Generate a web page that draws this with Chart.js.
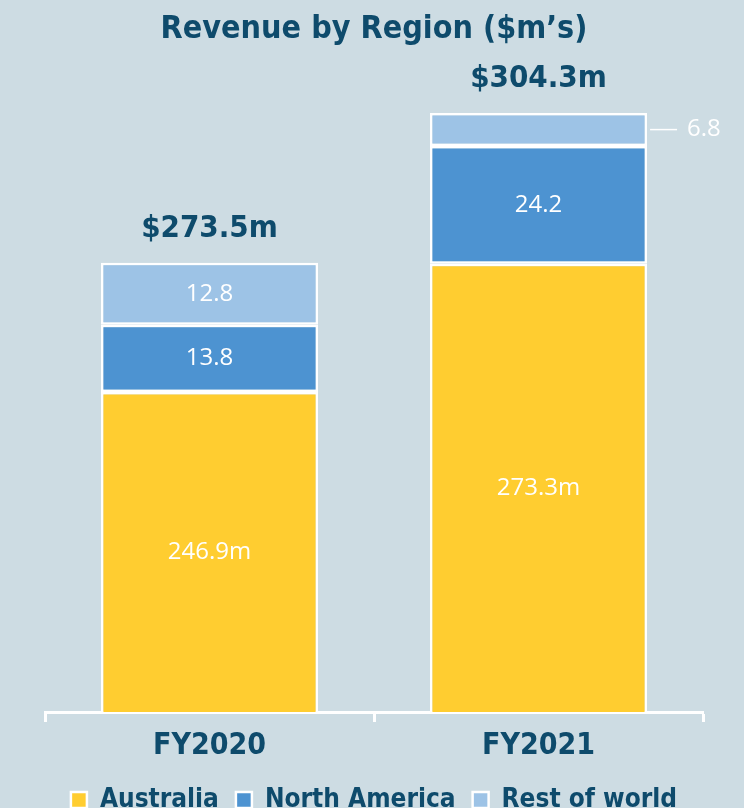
<!DOCTYPE html>
<html>
<head>
<meta charset="utf-8">
<script src="https://cdn.jsdelivr.net/npm/chart.js@4.4.1/dist/chart.umd.min.js"></script>
<style>
  html, body { margin: 0; padding: 0; background: #cddce3; }
  #wrap { width: 744px; height: 808px; }
</style>
</head>
<body>
<div id="wrap"><canvas id="regionChart"></canvas></div>
<script>
const years = ["FY2020", "FY2021"];
const australia = [246.9, 273.3];
const northAmerica = [13.8, 24.2];
const restOfWorld = [12.8, 6.8];

const headFont = '"DejaVu Sans Condensed", "Liberation Sans Narrow", sans-serif';
const bodyFont = '"Open Sans", sans-serif';
const navy = "#0e4b6c";

// value labels inside segments + totals above each stack
const valueLabels = {
  id: "valueLabels",
  afterDatasetsDraw(chart) {
    const ctx = chart.ctx;
    const bottom = chart.chartArea.bottom;
    ctx.save();
    ctx.textAlign = "center";
    ctx.textBaseline = "middle";
    chart.data.datasets.forEach((ds, i) => {
      const meta = chart.getDatasetMeta(i);
      meta.data.forEach((bar, j) => {
        const p = bar.getProps(["x", "y", "base", "width"], true);
        const base = Math.min(p.base, bottom);
        const h = base - p.y;
        const cy = (p.y + base) / 2;
        const txt = ds.data[j].toFixed(1) + (i === 0 ? "m" : "");
        ctx.fillStyle = "#ffffff";
        ctx.font = "24px " + bodyFont;
        if (h < 40) {
          // small slice: label outside with a leader line
          const x0 = p.x + p.width / 2 + 3;
          ctx.strokeStyle = "#ffffff";
          ctx.lineWidth = 1.5;
          ctx.beginPath();
          ctx.moveTo(x0, cy);
          ctx.lineTo(x0 + 27, cy);
          ctx.stroke();
          ctx.textAlign = "left";
          ctx.fillText(txt, x0 + 37, cy);
          ctx.textAlign = "center";
        } else {
          ctx.fillText(txt, p.x, cy);
        }
      });
    });
    const last = chart.getDatasetMeta(chart.data.datasets.length - 1);
    last.data.forEach((bar, j) => {
      const total = australia[j] + northAmerica[j] + restOfWorld[j];
      ctx.fillStyle = navy;
      ctx.font = "bold 31px " + headFont;
      ctx.fillText("$" + total.toFixed(1) + "m", bar.x, bar.y - 34);
    });
    ctx.restore();
  }
};

new Chart(document.getElementById("regionChart"), {
  type: "bar",
  data: {
    labels: years,
    datasets: [
      { label: "Australia", data: australia, backgroundColor: "#ffcd30" },
      { label: "North America", data: northAmerica, backgroundColor: "#4d93d1" },
      { label: "Rest of world", data: restOfWorld, backgroundColor: "#9dc3e6" }
    ]
  },
  options: {
    responsive: true,
    maintainAspectRatio: false,
    animation: false,
    datasets: {
      bar: {
        barPercentage: 0.66,
        categoryPercentage: 1,
        borderWidth: 2.5,
        borderColor: "#ffffff",
        borderSkipped: false
      }
    },
    layout: { padding: { left: 45, right: 41, top: 0, bottom: -15 } },
    plugins: {
      title: {
        display: true,
        text: "Revenue by Region ($m\u2019s)",
        color: navy,
        font: { family: headFont, size: 32, weight: "bold" },
        padding: { top: 10, bottom: 20 }
      },
      legend: {
        position: "bottom",
        labels: {
          color: navy,
          font: { family: headFont, size: 26, weight: "bold" },
          boxWidth: 16,
          boxHeight: 16,
          padding: 17
        }
      },
      tooltip: { enabled: false }
    },
    scales: {
      x: {
        stacked: true,
        grid: {
          offset: true,
          drawOnChartArea: false,
          drawTicks: true,
          tickLength: 10,
          tickWidth: 3,
          color: "#ffffff"
        },
        border: { display: true, color: "#ffffff", width: 3 },
        ticks: {
          color: navy,
          font: { family: headFont, size: 30, weight: "bold" },
          padding: 6
        }
      },
      y: {
        stacked: true,
        display: false,
        min: 181,
        max: 313.5
      }
    }
  },
  plugins: [valueLabels]
});
</script>
</body>
</html>
